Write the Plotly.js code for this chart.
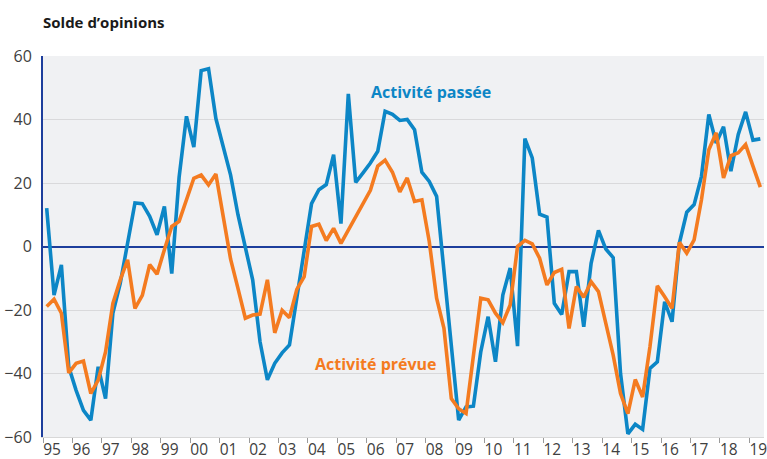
<!DOCTYPE html>
<html>
<head>
<meta charset="utf-8">
<script src="https://cdn.plot.ly/plotly-3.0.1.min.js"></script>
<style>
html,body{margin:0;padding:0;background:#fff;}
#chart{width:767px;height:459px;}
</style>
</head>
<body>
<div id="chart"></div>
<script>
// Quarterly balance of opinions, 1995 Q1 to 2019 Q2
var startYear = 1995;
var activitePassee = [
  12.1, -15.3, -5.8, -37.9, -45.3, -51.6, -54.7, -37.9, -47.9, -21, -11.6, 1, 13.7, 13.5, 9.5, 3.7,
  12.6, -8.5, 21.8, 41, 31.3, 55.4, 56, 40.3, 31.5, 22.5, 10, 0, -10.5, -30, -42, -36.8,
  -33.5, -31, -15.8, -1, 13.5, 17.9, 19.5, 28.9, 7.2, 48.1, 20.2, 23.2, 26.3, 30, 42.6, 41.6,
  39.7, 40, 36.8, 23.4, 20.5, 15.8, -8, -32, -54.7, -50.5, -50.3, -33.2, -22.1, -36.3, -15.3, -6.8,
  -31.4, 34, 27.9, 10.2, 9.3, -17.9, -21.4, -7.9, -7.9, -25.3, -5.3, 5.1, -0.8, -3.5, -40, -59,
  -56, -57.6, -38.4, -36.3, -17.4, -23.7, 1.1, 10.8, 13.2, 22.1, 41.6, 32.6, 37.7, 23.7, 35.3, 42.4,
  33.5, 33.9
];
var activitePrevue = [
  -18.9, -16.6, -21, -39.8, -36.8, -36.1, -46.3, -42.1, -33.2, -17.9, -10.5, -4.2, -19.5, -15.4, -5.7, -8.7,
  -1, 6.3, 7.9, 14.7, 21.5, 22.5, 19.4, 22.8, 9.5, -4, -13.2, -22.6, -21.6, -21.3, -10.5, -27.2,
  -20.1, -22.4, -13.5, -9.5, 6.3, 7, 1.9, 5.7, 1, 5.3, 9.5, 13.7, 17.7, 25.3, 27.2, 23.4,
  17.2, 21.6, 14.2, 14.7, 1.6, -16.3, -25.8, -47.9, -51.1, -52.6, -33.7, -16.3, -16.8, -21, -24, -18.4,
  0, 1.9, 0.8, -3.7, -12.1, -8.2, -7.2, -25.8, -12.6, -16, -11.1, -14.2, -24.2, -34.2, -46.3, -52.6,
  -41.9, -47.4, -31.6, -12.4, -15.8, -19.5, 1.3, -2.1, 2.1, 14.7, 30.5, 35.8, 21.6, 28.6, 29.5, 32.1,
  25.3, 18.7
];
var yearTicks = [1995,1996,1997,1998,1999,2000,2001,2002,2003,2004,2005,2006,2007,2008,2009,2010,2011,2012,2013,2014,2015,2016,2017,2018,2019];
var yearLabels = ['95','96','97','98','99','00','01','02','03','04','05','06','07','08','09','10','11','12','13','14','15','16','17','18','19'];
var yTicks = [-60,-40,-20,0,20,40,60];
var titleText = 'Solde d\u2019opinions';
var labelPassee = 'Activit\u00e9 pass\u00e9e';
var labelPrevue = 'Activit\u00e9 pr\u00e9vue';

function quarterX(n){
  var xs = [];
  for (var i = 0; i < n; i++) xs.push(startYear + (i + 0.5) / 4);
  return xs;
}

var blue = '#0C86C6';
var orange = '#F47B20';
var FONT = 'Open Sans, Lato, sans-serif';

var traces = [
  {x: quarterX(activitePassee.length), y: activitePassee, type: 'scatter', mode: 'lines',
   line: {color: blue, width: 3.6, shape: 'linear'}, hoverinfo: 'skip'},
  {x: quarterX(activitePrevue.length), y: activitePrevue, type: 'scatter', mode: 'lines',
   line: {color: orange, width: 3.6, shape: 'linear'}, hoverinfo: 'skip'}
];

var layout = {
  width: 767, height: 459,
  margin: {l: 43, r: 3, t: 56, b: 22, pad: 0},
  paper_bgcolor: '#ffffff',
  plot_bgcolor: '#F0F1F3',
  showlegend: false,
  font: {family: FONT, color: '#404040'},
  xaxis: {
    range: [1995, 2019.5],
    tickmode: 'array', tickvals: yearTicks, ticktext: yearLabels,
    ticks: 'outside', ticklen: 5, tickwidth: 1, tickcolor: '#9a9a9a',
    ticklabelshift: 9, ticklabelstandoff: -7, ticklabeloverflow: 'allow',
    tickfont: {size: 15.5, color: '#404040', family: FONT},
    showgrid: false, zeroline: false,
    showline: true, linecolor: '#d8d8d8', linewidth: 1,
    fixedrange: true
  },
  yaxis: {
    range: [-60, 60],
    tickmode: 'array', tickvals: yTicks,
    ticks: '', ticklabelstandoff: 6,
    tickfont: {size: 16, color: '#404040', family: FONT},
    showgrid: true, gridcolor: '#D9D9DB', gridwidth: 1,
    zeroline: true, zerolinecolor: '#1D3E9C', zerolinewidth: 2,
    showline: true, linecolor: '#1D3E9C', linewidth: 2,
    fixedrange: true
  },
  annotations: [
    {xref: 'paper', yref: 'paper', x: 0, y: 1, xanchor: 'left', yanchor: 'bottom',
     yshift: 22, xshift: -2, text: '<b>' + titleText + '</b>', showarrow: false,
     font: {size: 15, color: '#1a1a1a', family: FONT}},
    {xref: 'x', yref: 'y', x: 2008.19, y: 48.7, xanchor: 'center', yanchor: 'middle',
     text: '<b>' + labelPassee + '</b>', showarrow: false,
     font: {size: 16, color: blue, family: FONT}},
    {xref: 'x', yref: 'y', x: 2006.3, y: -37, xanchor: 'center', yanchor: 'middle',
     text: '<b>' + labelPrevue + '</b>', showarrow: false,
     font: {size: 16, color: orange, family: FONT}}
  ]
};

Plotly.newPlot('chart', traces, layout, {staticPlot: true, displayModeBar: false});
</script>
</body>
</html>
